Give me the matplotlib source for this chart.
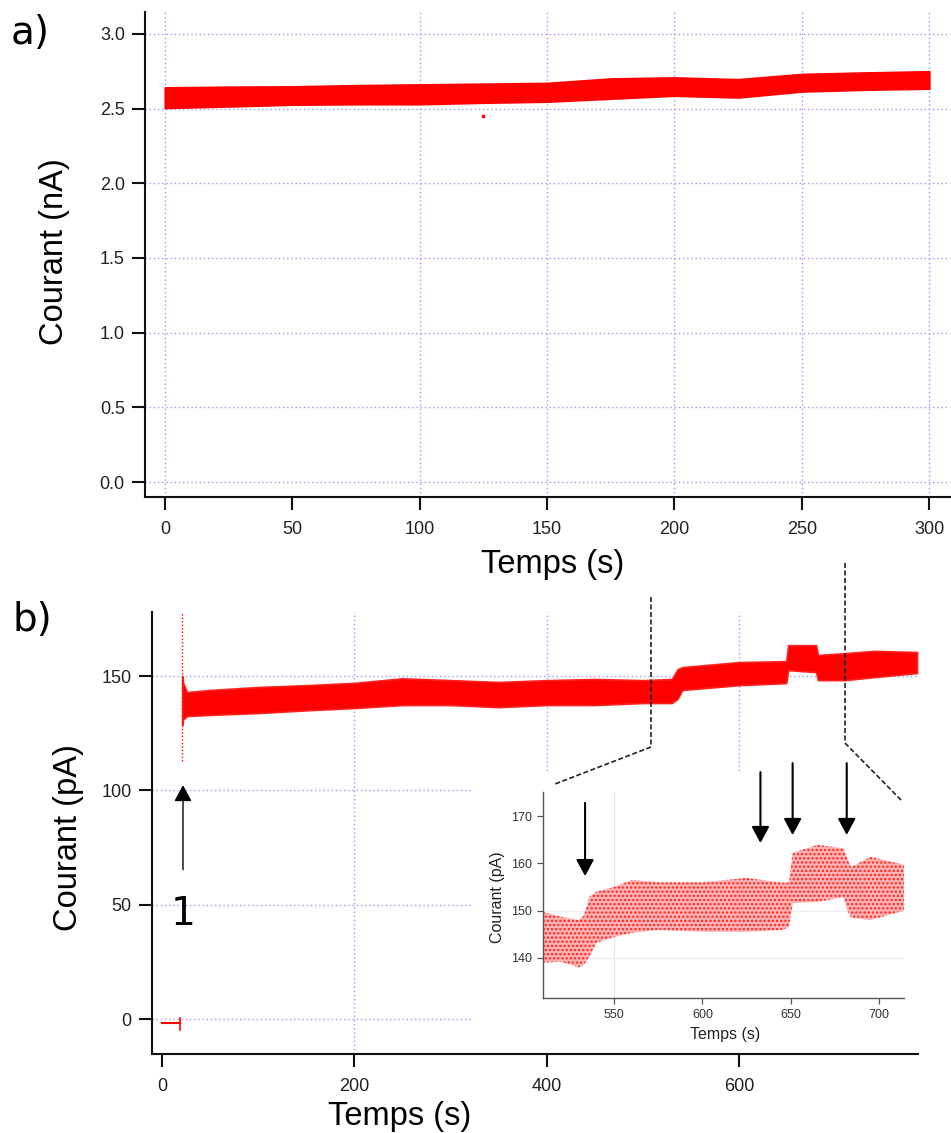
import matplotlib
matplotlib.use("Agg")
import matplotlib.pyplot as plt
from matplotlib.lines import Line2D
from matplotlib.patches import Rectangle

plt.rcParams['font.family'] = ['Liberation Sans', 'DejaVu Sans']

# ---------------- data ----------------
# Panel a: current envelope (nA)
t_a = [0, 25, 50, 75, 100, 125, 150, 175, 200, 225, 250, 275, 300]
top_a = [2.64, 2.645, 2.647, 2.655, 2.66, 2.665, 2.67, 2.70, 2.707, 2.695, 2.73, 2.74, 2.748]
bot_a = [2.505, 2.515, 2.527, 2.53, 2.53, 2.54, 2.547, 2.567, 2.587, 2.575, 2.615, 2.627, 2.634]
outlier_a_t = [124.9]
outlier_a_v = [2.453]
xticks_a = [0, 50, 100, 150, 200, 250, 300]
yticks_a = [0.0, 0.5, 1.0, 1.5, 2.0, 2.5, 3.0]
vgrid_a = [0, 100, 150, 200, 250, 300]

# Panel b: current envelope (pA)
t_b = [21.0, 22.0, 26, 50, 100, 150, 200, 250, 300, 350, 400, 450, 500, 530, 536, 541,
       600, 649, 651, 680, 682, 710, 740, 785]
top_b = [150, 147, 143, 143.9, 145.2, 146, 147, 149, 148.2, 147.4, 148.2, 148.7, 148.2, 148.7, 153.0, 153.9,
         156.1, 156.5, 163.5, 163.5, 159.2, 160, 161, 160.5]
bot_b = [128.6, 131, 132.5, 133, 133.8, 135, 136, 137.3, 137.3, 136.4, 137.3, 137.3, 138.2, 138.2, 140.0, 143.9,
         146, 146.9, 152.6, 151.7, 148.2, 148.2, 149.5, 151.3]
pre_t = [0, 18.5]
pre_v = [-1.7, -1.7]
jump_t = [18.5, 18.5]
jump_v = [0.5, -4.8]
spike_t = [20.8, 20.8]
spike_v = [113, 178]
xticks_b = [0, 200, 400, 600]
yticks_b = [0, 50, 100, 150]
arrow1 = (21.8, 65.3, 102.3)   # x, tail, tip
label1 = (21.8, 45.9)

# Inset
t_i = [510, 520, 530, 533, 536, 540, 550, 560, 575, 600, 625, 645, 649, 651, 665, 680, 682, 684, 695, 714]
top_i = [149.7, 148.7, 148, 149, 152.9, 154, 155, 156.5, 156, 156, 156.9, 155.9, 156, 162.2, 163.9, 163.2,
         161, 159.2, 161.4, 159.7]
bot_i = [139, 139.2, 138, 138.5, 140.2, 143.2, 144.4, 145.3, 145.9, 145.5, 145.5, 145.9, 146.5, 151.6,
         151.8, 152.9, 150, 148.5, 148, 150]
xticks_i = [550, 600, 650, 700]
yticks_i = [140, 150, 160, 170]
arrows_i_x = [533.6, 632.8, 651.0, 681.6]
arrows_i_tail = [172.8, 179.3, 181.2, 181.2]
arrows_i_tip = [157.3, 164.3, 166.0, 166.0]

W, H = 951, 1133
fig = plt.figure(figsize=(W / 100, H / 100), dpi=100)

def fx(px):
    return px / W

def fy(py):
    return 1 - py / H

GRID = '#9a9aee'
TICKC = '#222222'

def style_main(ax):
    for s in ['top', 'right']:
        ax.spines[s].set_visible(False)
    for s in ['left', 'bottom']:
        ax.spines[s].set_linewidth(1.5)
        ax.spines[s].set_color('#111111')
    ax.tick_params(direction='out', length=9.5, width=1.5, colors='#111111',
                   labelsize=13, labelcolor=TICKC)
    ax.tick_params(axis='x', pad=8)
    ax.tick_params(axis='y', pad=5)

# ---------------- panel a ----------------
axa = fig.add_axes([fx(145), fy(497), fx(950) - fx(145), fy(12) - fy(497)])
axa.set_xlim(-7.85, 308.2)
axa.set_ylim(-0.1, 3.146)
axa.set_xticks(xticks_a)
axa.set_yticks(yticks_a)
axa.set_yticklabels([f"{v:.1f}" for v in yticks_a])
style_main(axa)
for y in yticks_a:
    axa.axhline(y, color=GRID, lw=1, ls=(0, (1, 2)), zorder=0.5)
for x in vgrid_a:
    axa.axvline(x, color=GRID, lw=1, ls=(0, (1, 2)), zorder=0.5)
axa.fill_between(t_a, bot_a, top_a, color='#ff0000', lw=1.5, edgecolor='#ff0000', zorder=2)
axa.plot(outlier_a_t, outlier_a_v, 's', ms=1.5, color='#ff0000')

fig.text(fx(553), fy(573), 'Temps (s)', fontsize=23.5, ha='center', va='baseline')
fig.text(fx(55), fy(252), 'Courant (nA)', fontsize=23.5, ha='center', va='center', rotation=90)
fig.text(fx(11), fy(33), 'a)', fontsize=28, ha='left', va='center', family='DejaVu Sans')

# ---------------- panel b ----------------
axb = fig.add_axes([fx(152), fy(1054), fx(918) - fx(152), fy(612) - fy(1054)])
axb.set_xlim(-10.4, 786)
axb.set_ylim(-15.3, 178)
axb.set_xticks(xticks_b)
axb.set_yticks(yticks_b)
style_main(axb)
for y in yticks_b:
    axb.axhline(y, color=GRID, lw=1, ls=(0, (1, 2)), zorder=0.5)
for x in xticks_b[1:]:
    axb.axvline(x, color=GRID, lw=1, ls=(0, (1, 2)), zorder=0.5)
axb.fill_between(t_b, bot_b, top_b, color='#ff0000', lw=1.2, edgecolor='#ff2020', zorder=2)
axb.plot(pre_t, pre_v, color='#ff0000', lw=1.5, zorder=2)
axb.plot(jump_t, jump_v, color='#ff0000', lw=1.2, zorder=2)
axb.plot(spike_t, spike_v, color='#ff0000', lw=1.0, ls=(0, (1, 1.5)), zorder=2)

# white box under inset
axb.add_patch(Rectangle((fx(472), fy(1051)), fx(925) - fx(472), fy(772) - fy(1051),
                        transform=fig.transFigure, facecolor='white', edgecolor='none',
                        zorder=1.5, clip_on=False))

axb.annotate('', xy=(arrow1[0], arrow1[2]), xytext=(arrow1[0], arrow1[1]),
             arrowprops=dict(arrowstyle='-|>,head_length=0.5,head_width=0.27', color='black',
                             lw=1.0, shrinkA=0, shrinkB=0, mutation_scale=20), zorder=4)
axb.text(label1[0], label1[1], '1', fontsize=28, ha='center', va='center', family='DejaVu Sans', zorder=4)

fig.text(fx(400), fy(1125), 'Temps (s)', fontsize=23.5, ha='center', va='baseline')
fig.text(fx(68), fy(838), 'Courant (pA)', fontsize=23.5, ha='center', va='center', rotation=90)
fig.text(fx(12), fy(620), 'b)', fontsize=28, ha='left', va='center', family='DejaVu Sans')

# zoom guide lines (figure pixels)
dash = (0, (3, 1.5))
fig.add_artist(Line2D([fx(651), fx(651), fx(555)], [fy(597), fy(747), fy(784)],
                      color='#222222', lw=1.2, ls=dash))
fig.add_artist(Line2D([fx(845), fx(845), fx(902)], [fy(563), fy(743), fy(801)],
                      color='#222222', lw=1.2, ls=dash))

# ---------------- inset ----------------
axi = fig.add_axes([fx(543), fy(998), fx(904) - fx(543), fy(792) - fy(998)])
axi.set_xlim(509.8, 714)
axi.set_ylim(131.5, 175.1)
axi.set_xticks(xticks_i)
axi.set_yticks(yticks_i)
for s in ['top', 'right']:
    axi.spines[s].set_visible(False)
for s in ['left', 'bottom']:
    axi.spines[s].set_linewidth(1.0)
    axi.spines[s].set_color('#555555')
axi.tick_params(direction='out', length=4, width=0.9, colors='#555555', labelsize=9,
                labelcolor='#333333', pad=4)
axi.axvline(550, color='#e2e2f2', lw=0.8, zorder=0.5)
for y in [140, 150]:
    axi.axhline(y, color='#ececf6', lw=0.8, zorder=0.5)
plt.rcParams['hatch.color'] = '#ff1a1a'
plt.rcParams['hatch.linewidth'] = 1.1
axi.fill_between(t_i, bot_i, top_i, facecolor='#ffb4b4', edgecolor='#ff2020', hatch='....',
                 lw=0, zorder=2)
fig.text(fx(725), fy(1034), 'Temps (s)', fontsize=11.5, ha='center', va='center', color='#222222')
fig.text(fx(498), fy(897), 'Courant (pA)', fontsize=11.5, ha='center', va='center', rotation=90,
         color='#222222')

for x, tail, tip in zip(arrows_i_x, arrows_i_tail, arrows_i_tip):
    axi.annotate('', xy=(x, tip), xytext=(x, tail), annotation_clip=False,
                 arrowprops=dict(arrowstyle='-|>,head_length=0.5,head_width=0.27', color='black',
                                 lw=1.5, shrinkA=0, shrinkB=0, mutation_scale=20), zorder=5)

fig.savefig('out.png', dpi=100)
